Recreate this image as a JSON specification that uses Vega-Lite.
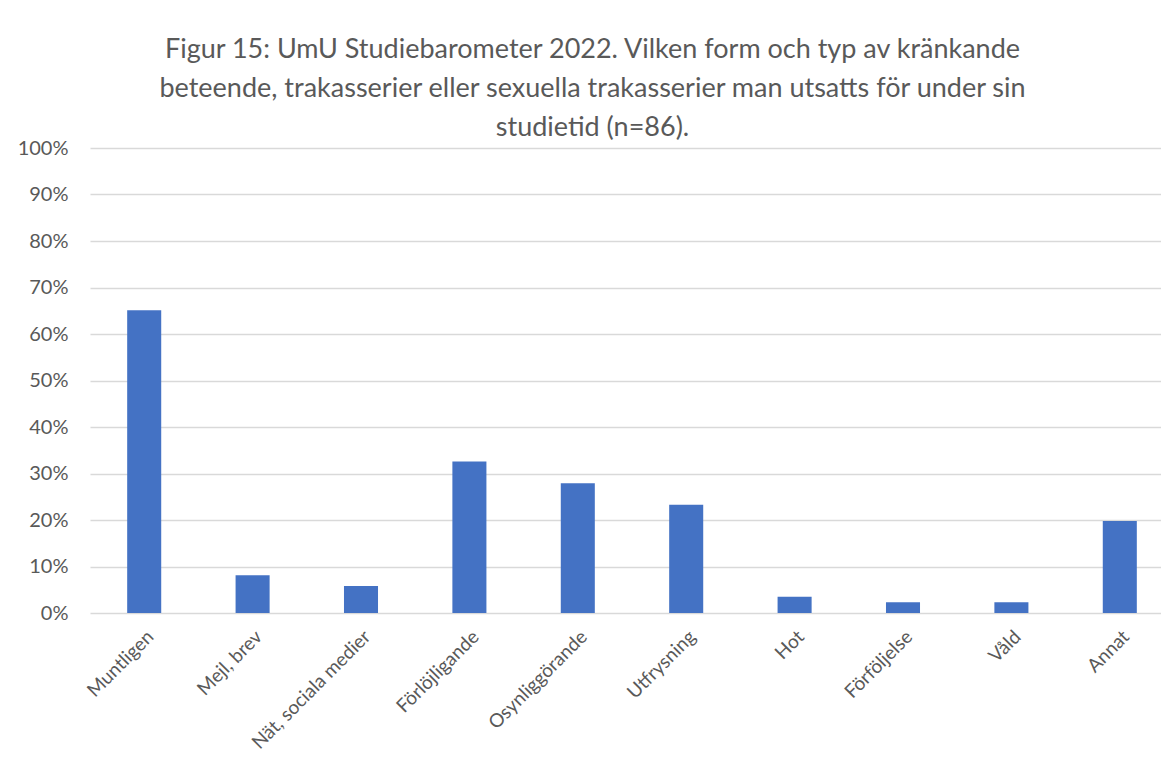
{
  "$schema": "https://vega.github.io/schema/vega-lite/v6.json",
  "autosize": {"type": "none"},
  "width": 1071,
  "height": 465,
  "padding": {"left": 90, "top": 148, "right": 0, "bottom": 152},
  "background": "white",
  "title": {
    "text": ["Figur 15: UmU Studiebarometer 2022. Vilken form och typ av kränkande", "beteende, trakasserier eller sexuella trakasserier man utsatts för under sin", "studietid (n=86)."],
    "font": "Lato",
    "fontSize": 27,
    "fontWeight": "normal",
    "color": "#595959",
    "lineHeight": 39,
    "anchor": "middle",
    "frame": "group",
    "dx": -33,
    "offset": -4
  },
  "data": {
    "values": [
      {"kategori": "Muntligen", "andel": 0.651},
      {"kategori": "Mejl, brev", "andel": 0.081},
      {"kategori": "Nät, sociala medier", "andel": 0.058},
      {"kategori": "Förlöjligande", "andel": 0.326},
      {"kategori": "Osynliggörande", "andel": 0.279},
      {"kategori": "Utfrysning", "andel": 0.233},
      {"kategori": "Hot", "andel": 0.035},
      {"kategori": "Förföljelse", "andel": 0.023},
      {"kategori": "Våld", "andel": 0.023},
      {"kategori": "Annat", "andel": 0.198}
    ]
  },
  "mark": {"type": "bar", "color": "#4472C4"},
  "encoding": {
    "x": {
      "field": "kategori",
      "type": "nominal",
      "sort": null,
      "scale": {"range": [0, 1084], "paddingInner": 0.686, "paddingOuter": 0.343},
      "axis": {
        "title": null,
        "labelAngle": -45,
        "labelFont": "Lato",
        "labelFontSize": 19,
        "labelColor": "#595959",
        "ticks": false,
        "domain": false,
        "labelPadding": 14,
        "grid": false
      }
    },
    "y": {
      "field": "andel",
      "type": "quantitative",
      "scale": {"domain": [0, 1]},
      "axis": {
        "title": null,
        "format": ".0%",
        "values": [0, 0.1, 0.2, 0.3, 0.4, 0.5, 0.6, 0.7, 0.8, 0.9, 1],
        "labelFont": "Lato",
        "labelFontSize": 20,
        "labelColor": "#595959",
        "ticks": false,
        "domain": false,
        "labelPadding": 22,
        "grid": true,
        "gridColor": "#D9D9D9",
        "gridWidth": 1.5
      }
    }
  },
  "config": {"view": {"stroke": null}}
}
